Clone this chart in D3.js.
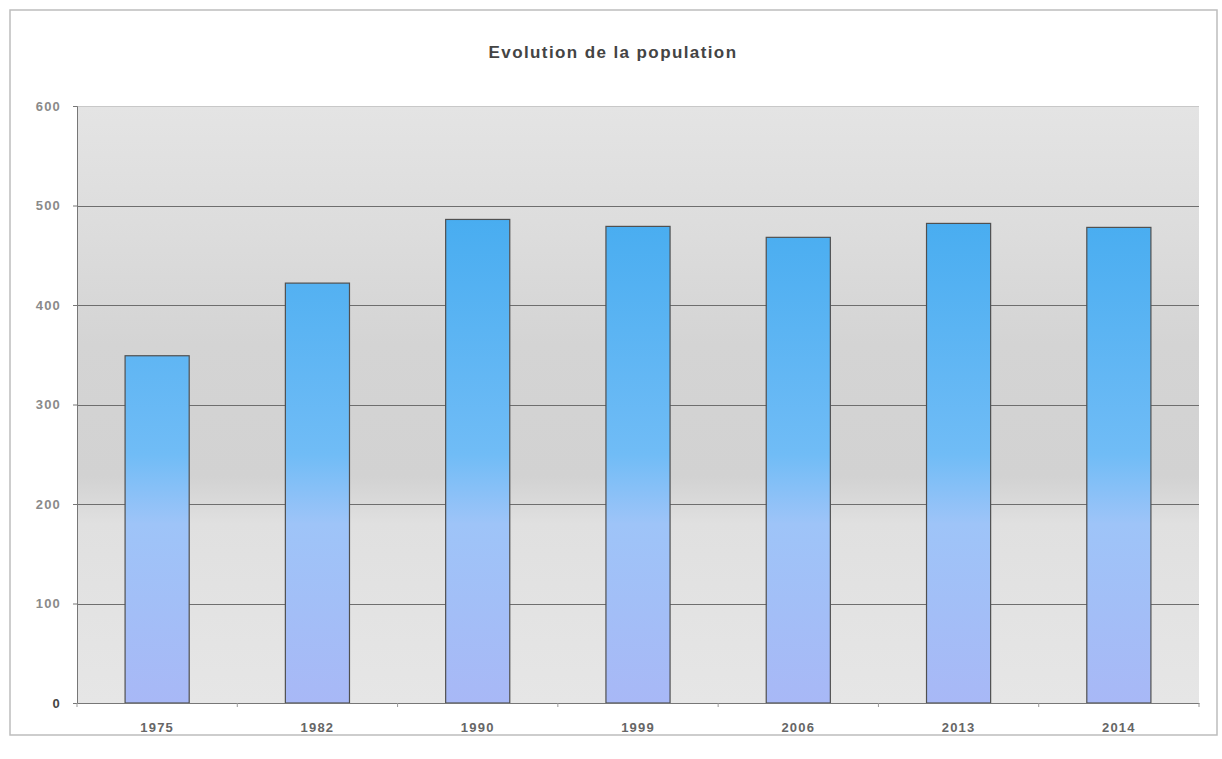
<!DOCTYPE html>
<html><head><meta charset="utf-8">
<script src="https://cdn.jsdelivr.net/npm/d3@7"></script>
<style>body{margin:0;background:#fff;}svg{display:block;font-family:"Liberation Sans",Arial,sans-serif;}</style>
</head><body>
<svg id="c" width="1222" height="759"></svg>
<script>
const years = ["1975","1982","1990","1999","2006","2013","2014"];
const population = [349, 422, 486, 479, 468, 482, 478];
const yTicks = [0,100,200,300,400,500,600];
const title = "Evolution de la population";

const svg = d3.select("#c");
const m = {left:77, right:1199, top:106, bottom:703};
const x = d3.scaleBand().domain(years).range([m.left, m.right]).paddingInner(0.6).paddingOuter(0.3);
const y = d3.scaleLinear().domain([0,600]).range([m.bottom, m.top]);

const defs = svg.append("defs");
const bg = defs.append("linearGradient").attr("id","bg").attr("x1",0).attr("y1",0).attr("x2",0).attr("y2",1);
bg.append("stop").attr("offset","0%").attr("stop-color","#e4e4e4");
bg.append("stop").attr("offset","22%").attr("stop-color","#dcdcdc");
bg.append("stop").attr("offset","40%").attr("stop-color","#d4d4d4");
bg.append("stop").attr("offset","62%").attr("stop-color","#d2d2d2");
bg.append("stop").attr("offset","70%").attr("stop-color","#e0e0e0");
bg.append("stop").attr("offset","100%").attr("stop-color","#e6e6e6");
const bar = defs.append("linearGradient").attr("id","bar").attr("gradientUnits","userSpaceOnUse")
  .attr("x1",0).attr("y1",y(500)).attr("x2",0).attr("y2",y(0));
bar.append("stop").attr("offset","0%").attr("stop-color","#46acf0");
bar.append("stop").attr("offset","50%").attr("stop-color","#70bcf6");
bar.append("stop").attr("offset","64%").attr("stop-color","#9ec4f8");
bar.append("stop").attr("offset","100%").attr("stop-color","#a8b8f6");

// outer frame
svg.append("rect").attr("x",10).attr("y",10).attr("width",1207).attr("height",725)
  .attr("fill","#fff").attr("stroke","#bdbdbd").attr("stroke-width",1.5);

svg.append("text").attr("x",613).attr("y",58).attr("text-anchor","middle")
  .attr("font-size",17).attr("font-weight","bold").attr("letter-spacing",1.4).attr("fill","#444").text(title);

// plot background
svg.append("rect").attr("x",m.left).attr("y",m.top).attr("width",m.right-m.left).attr("height",m.bottom-m.top)
  .attr("fill","url(#bg)");

// grid
svg.append("g").selectAll("line").data(yTicks.filter(d=>d>0)).join("line")
  .attr("x1",m.left).attr("x2",m.right).attr("y1",d=>Math.round(y(d))+0.5).attr("y2",d=>Math.round(y(d))+0.5)
  .attr("stroke",d=>d===600?"#c8c8c8":"#6e6e6e").attr("stroke-width",1);

// bars
svg.append("g").selectAll("rect").data(population).join("rect")
  .attr("x",(d,i)=>x(years[i])).attr("width",x.bandwidth())
  .attr("y",d=>y(d)).attr("height",d=>y(0)-y(d))
  .attr("fill","url(#bar)").attr("stroke","#505050").attr("stroke-width",1.2);

// y axis
const ya = svg.append("g").attr("transform",`translate(${m.left},0)`)
  .call(d3.axisLeft(y).tickValues(yTicks).tickSize(4).tickPadding(12));
ya.select(".domain").attr("stroke","#777");
ya.selectAll(".tick line").attr("stroke","#777");
ya.selectAll("text").attr("font-size",13).attr("font-weight","bold").attr("letter-spacing",1.2)
  .attr("fill",d=>d===0?"#444":"#8a8a8a");

// x axis
const xa = svg.append("g").attr("transform",`translate(0,${m.bottom})`)
  .call(d3.axisBottom(x).tickSize(0).tickPadding(20));
xa.select(".domain").attr("stroke","#777");
xa.selectAll("text").attr("font-size",13).attr("font-weight","bold").attr("letter-spacing",1.2).attr("fill","#666");
// category separators ticks
svg.append("g").selectAll("line").data(d3.range(years.length+1)).join("line")
  .attr("x1",i=>m.left + i*(m.right-m.left)/years.length).attr("x2",i=>m.left + i*(m.right-m.left)/years.length)
  .attr("y1",m.bottom).attr("y2",m.bottom+4).attr("stroke","#999");
</script>
</body></html>
